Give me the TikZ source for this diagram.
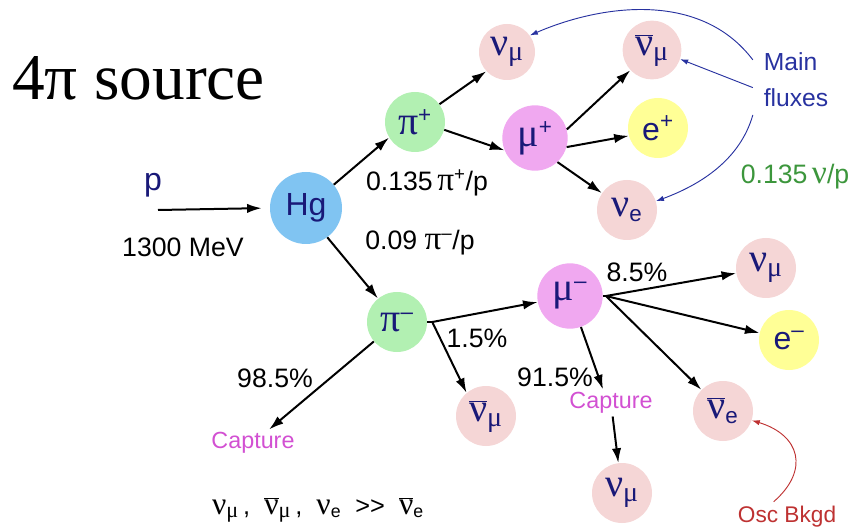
\documentclass[tikz,border=0pt]{standalone}
\usepackage{fontspec}
\setmainfont{Liberation Sans}
\newfontfamily\grk[Scale=1.25]{Liberation Serif}
\newfontfamily\titlefont{Liberation Serif}
\usetikzlibrary{arrows.meta}

\definecolor{hgblue}{RGB}{128,196,242}
\definecolor{pigreen}{RGB}{178,240,178}
\definecolor{nupink}{RGB}{245,214,214}
\definecolor{muviolet}{RGB}{240,168,240}
\definecolor{eyellow}{RGB}{255,255,150}
\definecolor{inkblue}{RGB}{25,25,120}
\definecolor{fluxblue}{RGB}{40,50,160}
\definecolor{capmag}{RGB}{210,80,210}
\definecolor{ratiogreen}{RGB}{60,150,60}
\definecolor{oscred}{RGB}{190,50,50}

\newcommand{\gr}[1]{{\grk #1}}
\newcommand{\nusub}[1]{\gr{ν}\textsubscript{#1}}
\newcommand{\nubarsub}[1]{$\overline{\hbox{\gr{ν}}}$\textsubscript{#1}}

\begin{document}
\begin{tikzpicture}[
  x=0.75pt,y=-0.75pt,
  particle/.style={circle,minimum size=45pt,inner sep=0pt,text=inkblue,font=\fontsize{24}{26}\selectfont},
  flow/.style={-{Latex[length=11pt,width=7pt]},line width=1.5pt},
  thin flow/.style={-{Latex[length=6pt,width=4pt]},line width=0.7pt},
  rate/.style={font=\fontsize{20}{22}\selectfont,inner sep=1pt},
  capture/.style={font=\fontsize{17.5}{19}\selectfont,text=capmag,inner sep=2pt}
]
\useasboundingbox (0,0) rectangle (854,531);
% title and beam
\node[anchor=base west,inner sep=0pt,font=\titlefont\fontsize{49}{52}\selectfont] (title) at (12,100) {4π source};
\node[text=inkblue,font=\fontsize{24}{26}\selectfont] (p) at (153,185) {p};
\coordinate (pin) at (158,210);
\node[rate] (mev) at (183,247) {1300 MeV};
\node[particle,fill=hgblue,minimum size=54pt] (Hg) at (306,208) {Hg};
\draw[flow,shorten >=6pt] (pin) -- (Hg.west);

% pi+ branch
\node[particle,fill=pigreen] (pip) at (415,122) {\gr{π}\textsuperscript{+}};
\node[particle,fill=nupink,minimum size=42pt] (nmt) at (507,52) {\nusub{\gr{μ}}};
\node[particle,fill=nupink,minimum size=44pt] (nbmt) at (652,50) {\nubarsub{\gr{μ}}};
\node[particle,fill=muviolet,minimum size=49pt] (mup) at (535,138) {\gr{μ}\textsuperscript{+}};
\node[particle,fill=eyellow] (ep) at (658,128) {e\textsuperscript{+}};
\node[particle,fill=nupink] (ne) at (627,210) {\nusub{e}};
\node[rate] (rplus) at (427,183) {0.135\,\gr{π}\textsuperscript{+}/p};
\node[rate] (rminus) at (420,243) {0.09 \gr{π}\textsuperscript{--}/p};
\node[align=left,text=fluxblue,font=\fontsize{18.5}{27}\selectfont,inner xsep=8pt,inner ysep=6pt] (mf) at (796,80) {Main\\fluxes};
\node[rate,text=ratiogreen] (nup) at (795,177) {0.135\,\gr{ν}/p};
\draw[flow] (Hg.40) -- (pip.211);
\draw[flow] (pip.36) -- (nmt.223);
\draw[flow] (pip.-15) -- (mup.202);
\draw[flow] (mup.15) -- (nbmt.223);
\draw[flow] (mup.-16) -- (ep.195);
\draw[flow] (mup.-47) -- (ne.146);
\draw[thin flow,fluxblue] (mf.155) .. controls (700,-10) and (600,5) .. (nmt.36);
\draw[thin flow,fluxblue] (mf.190) -- (nbmt.-18);
\draw[thin flow,fluxblue] (mf.219) .. controls (740,160) and (700,185) .. (ne.17);

% pi- branch
\node[particle,fill=pigreen] (pim) at (397,322) {\gr{π}\textsuperscript{--}};
\node[particle,fill=muviolet,minimum size=49pt] (mum) at (570,296) {\gr{μ}\textsuperscript{--}};
\node[particle,fill=nupink] (nmr) at (766,268) {\nusub{\gr{μ}}};
\node[particle,fill=eyellow] (em) at (789,340) {e\textsuperscript{--}};
\node[particle,fill=nupink] (nbe) at (723,411) {\nubarsub{e}};
\node[particle,fill=nupink] (nbml) at (486,416) {\nubarsub{\gr{μ}}};
\node[particle,fill=nupink] (nmb) at (622,493) {\nusub{\gr{μ}}};
\node[rate] (r85) at (637,272) {8.5\%};
\node[rate] (r15) at (477,338) {1.5\%};
\node[rate] (r915) at (555,377) {91.5\%};
\node[capture] (capm) at (611,403) {Capture};
\node[rate] (r985) at (275,378) {98.5\%};
\node[capture] (capp) at (253,443) {Capture};
\coordinate (pj) at ([xshift=3.75pt]pim.east);
\coordinate (mj) at ([xshift=2.25pt]mum.east);
\draw[flow] (Hg.-54) -- (pim.129);
\draw[flow] (pim) -- (capp);
\draw[line width=1.5pt] (pim.east) -- (pj);
\draw[flow] (pj) -- (mum);
\draw[flow] (pj) -- (nbml.130);
\draw[line width=1.5pt] (mum.east) -- (mj);
\draw[flow] (mj) -- (nmr);
\draw[flow] (mj) -- (em);
\draw[flow] (mj) -- (nbe);
\draw[flow] (mum) -- ([xshift=-6pt]capm.north);
\draw[flow] (capm) -- (nmb);

% summary and background
\node[font=\fontsize{19}{24}\selectfont,inner sep=0pt] (sum) at (318,510) {\nusub{\gr{μ}}\,,~ \nubarsub{\gr{μ}}\,,~ \nusub{e}~ >{}>~ \nubarsub{e}};
\node[text=oscred,font=\fontsize{17}{20}\selectfont] (osc) at (787,517) {Osc Bkgd};
\draw[thin flow,oscred] ([xshift=-10pt]osc.north) .. controls (810,470) and (800,435) .. (nbe.-18);
\end{tikzpicture}
\end{document}
